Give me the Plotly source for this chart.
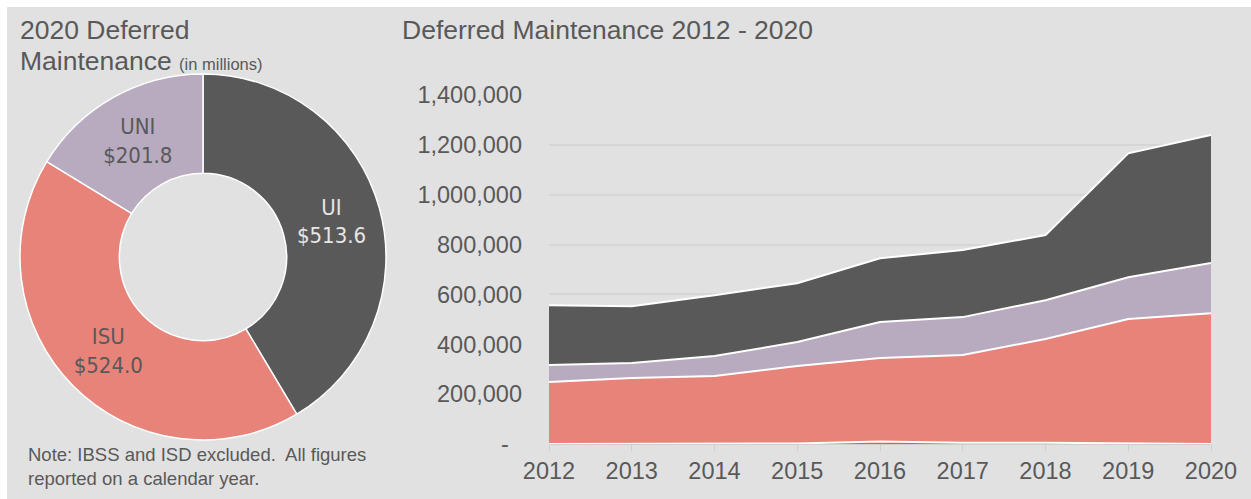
import plotly.graph_objects as go

# ---- data ----
years = [2012, 2013, 2014, 2015, 2016, 2017, 2018, 2019, 2020]
other = [0, 0, 0, 2000, 10000, 5000, 5000, 3000, 0]
isu = [249000, 265000, 273000, 311000, 335000, 352000, 416000, 498000, 524000]
uni = [68000, 60000, 80000, 96000, 144000, 152000, 156000, 168000, 201800]
ui = [240000, 228000, 244000, 236000, 256000, 269000, 261000, 497000, 513600]

pie_labels = ["UI", "ISU", "UNI"]
pie_values = [513.6, 524.0, 201.8]

y_tickvals = [0, 200000, 400000, 600000, 800000, 1000000, 1200000, 1400000]
y_ticktext = ["-\u00a0\u00a0", "200,000", "400,000", "600,000", "800,000", "1,000,000", "1,200,000", "1,400,000"]

# ---- styles ----
C_UI = "#595959"
C_ISU = "#e8837a"
C_UNI = "#b8aabf"
C_OTHER = "#d9605a"
TXT = "#595959"
BG = "#e1e1e1"
W, H = 1251, 499
FONT = "Liberation Sans, Arial, sans-serif"
NARROW = "Liberation Sans Narrow, Arial Narrow, DejaVu Sans Condensed, Liberation Sans, sans-serif"

fig = go.Figure()

fig.add_trace(go.Pie(
    labels=pie_labels, values=pie_values, sort=False, direction="clockwise", rotation=0,
    hole=0.457,
    marker=dict(colors=[C_UI, C_ISU, C_UNI], line=dict(color="white", width=1.5)),
    texttemplate="%{label}<br>$%{value:.1f}", textposition="inside",
    insidetextorientation="horizontal",
    insidetextfont=dict(family=NARROW, size=22, color=["#e6e6e6", TXT, TXT]),
    domain=dict(x=[18 / W, 388 / W], y=[1 - 440 / H, 1 - 74 / H]),
    showlegend=False, hoverinfo="label+value",
))

for name, vals, col in [("Other", other, C_OTHER), ("ISU", isu, C_ISU), ("UNI", uni, C_UNI), ("UI", ui, C_UI)]:
    fig.add_trace(go.Scatter(
        x=years, y=vals, name=name, mode="lines", stackgroup="one",
        line=dict(color="white", width=2), fillcolor=col, showlegend=False,
        xaxis="x", yaxis="y",
    ))

fig.update_layout(
    template="none",
    width=W, height=H,
    margin=dict(l=0, r=0, t=0, b=0, autoexpand=False),
    paper_bgcolor="white", plot_bgcolor="rgba(0,0,0,0)",
    font=dict(family=FONT, color=TXT),
    xaxis=dict(domain=[549 / W, 1211 / W], range=[2012, 2020], tickvals=years, automargin=False,
               showgrid=False, zeroline=False, showline=True, linecolor="#cfcfcf", linewidth=1,
               ticks="outside", ticklen=6, tickcolor="#cfcfcf",
               tickfont=dict(size=23.5, color=TXT, family=FONT), fixedrange=True),
    yaxis=dict(domain=[1 - 444 / H, 1 - 95 / H], range=[0, 1400000], automargin=False,
               tickvals=y_tickvals, ticktext=y_ticktext,
               showgrid=True, gridcolor="#d6d6d6", gridwidth=2, zeroline=False, showline=False,
               ticks="", ticklabelstandoff=26,
               tickfont=dict(size=23.5, color=TXT, family=FONT), fixedrange=True),
    shapes=[dict(type="rect", xref="paper", yref="paper", x0=7 / W, x1=1, y0=0, y1=1 - 7 / H,
                 fillcolor=BG, line=dict(width=0), layer="below")],
    annotations=[
        dict(text="2020 Deferred", x=18 / W, y=1 - 30 / H, xref="paper", yref="paper",
             xanchor="left", yanchor="middle", showarrow=False, font=dict(size=26.5, color=TXT)),
        dict(text="Maintenance <span style='font-size:16.5px'>(in millions)</span>", x=18 / W, y=1 - 61 / H,
             xref="paper", yref="paper", xanchor="left", yanchor="middle", showarrow=False,
             font=dict(size=26.5, color=TXT)),
        dict(text="Deferred Maintenance 2012 - 2020", x=400 / W, y=1 - 30 / H, xref="paper", yref="paper",
             xanchor="left", yanchor="middle", showarrow=False, font=dict(size=26.5, color=TXT)),
        dict(text="Note: IBSS and ISD excluded.  All figures<br>reported on a calendar year.",
             x=26 / W, y=1 - 466 / H, xref="paper", yref="paper", xanchor="left", yanchor="middle",
             align="left", showarrow=False, font=dict(size=18.5, color=TXT)),
    ],
)

fig.write_html("out.html")
